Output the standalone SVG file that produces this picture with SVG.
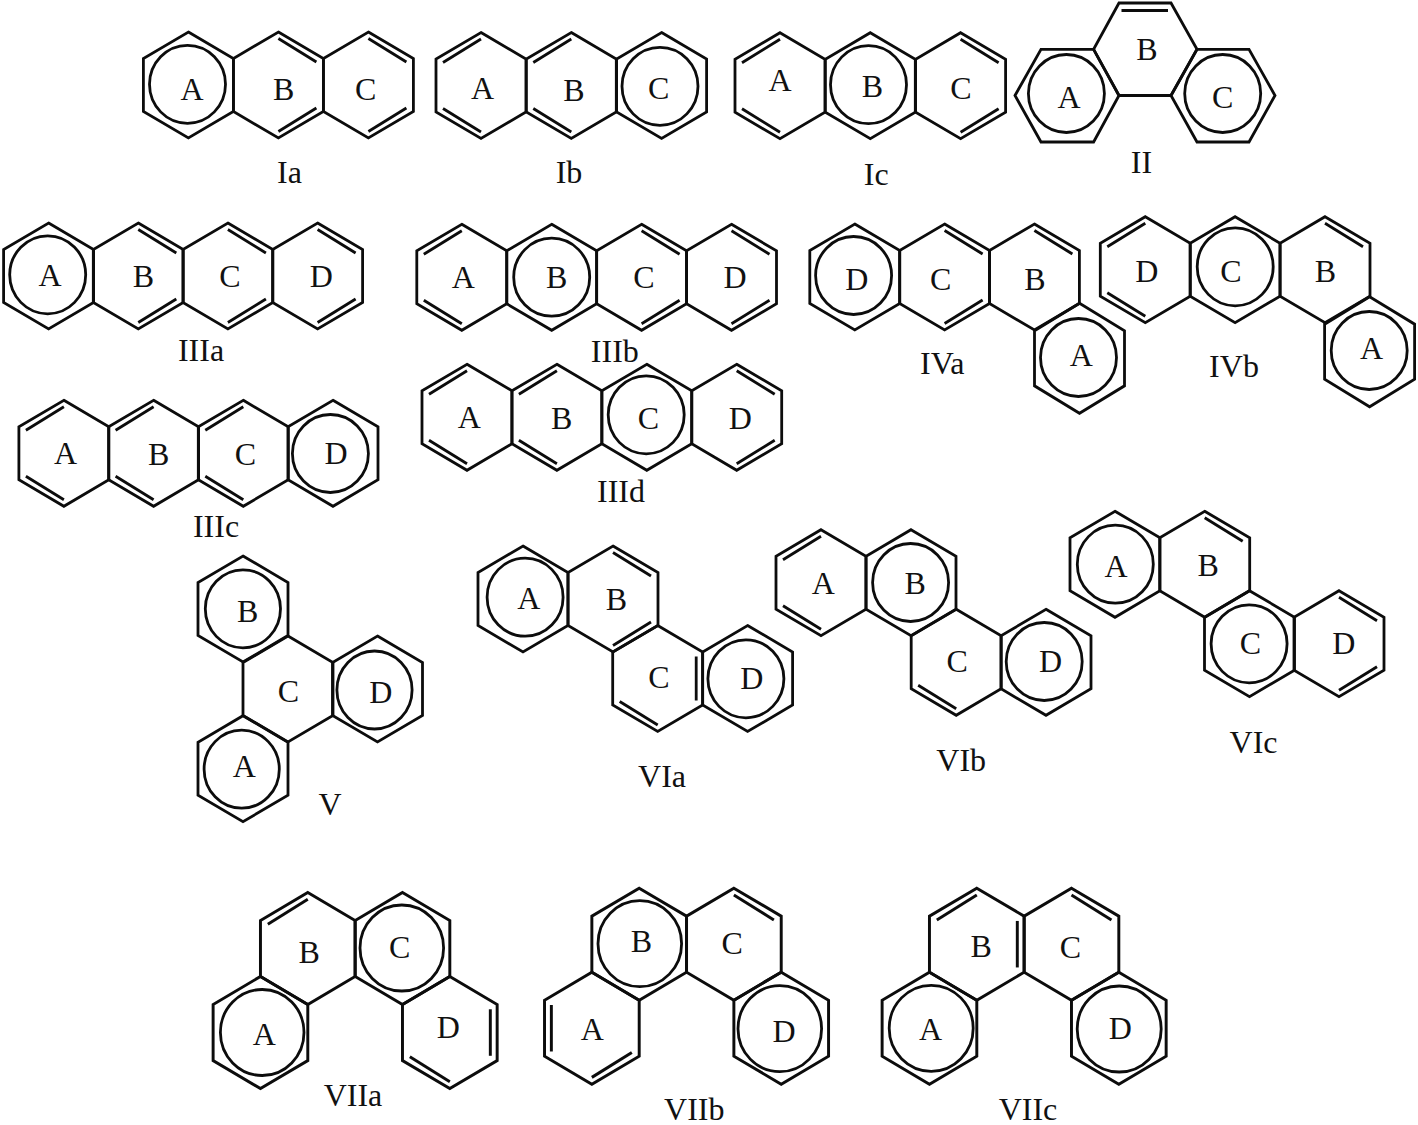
<svg xmlns="http://www.w3.org/2000/svg" width="1418" height="1125" viewBox="0 0 1418 1125">
<style>
.s{fill:none;stroke:#0c0c0c;stroke-width:2.8;stroke-linejoin:miter}
.c{fill:none;stroke:#0c0c0c;stroke-width:2.8}
text{font-family:"Liberation Serif","Times New Roman",serif;font-size:32px;fill:#111;text-anchor:middle}
</style>
<defs>
<polygon id="h" class="s" points="0,-53 45,-26.5 45,26.5 0,53 -45,26.5 -45,-26.5"/>
<path id="tr" class="s" d="M0-46.5L38-23"/>
<path id="br" class="s" d="M0 46.5L38 23"/>
<path id="tl" class="s" d="M0-46.5L-38-23"/>
<path id="bl" class="s" d="M0 46.5L-38 23"/>
<path id="r" class="s" d="M38.5-22V22"/>
<path id="l" class="s" d="M-38.5-22V22"/>
</defs>
<rect width="1418" height="1125" fill="#fff"/>
<g id="connectors"/>

<g id="Ia">
<use href="#h" x="188.4" y="85"/><use href="#h" x="278.4" y="85"/><use href="#h" x="368.4" y="85"/>
<ellipse class="c" cx="187.5" cy="84.3" rx="38" ry="39"/>
<use href="#tr" x="278.4" y="85"/><use href="#br" x="278.4" y="85"/><use href="#tr" x="368.4" y="85"/><use href="#br" x="368.4" y="85"/>
<text x="192" y="99.5">A</text><text x="283.6" y="100">B</text><text x="365.6" y="100">C</text><text x="289.4" y="182.5">Ia</text>
</g>

<g id="Ib">
<use href="#h" x="481" y="85.5"/><use href="#h" x="571.3" y="85.5"/><use href="#h" x="661.6" y="85.5"/>
<ellipse class="c" cx="660" cy="86.3" rx="38" ry="39"/>
<use href="#tl" x="481" y="85.5"/><use href="#bl" x="481" y="85.5"/><use href="#tl" x="571.3" y="85.5"/><use href="#bl" x="571.3" y="85.5"/>
<text x="482.5" y="98.5">A</text><text x="574" y="101">B</text><text x="658.7" y="98.5">C</text><text x="569" y="182.5">Ib</text>
</g>

<g id="Ic">
<use href="#h" x="780" y="85.7"/><use href="#h" x="870.3" y="85.7"/><use href="#h" x="960.6" y="85.7"/>
<ellipse class="c" cx="868.5" cy="84.7" rx="38" ry="39"/>
<use href="#tl" x="780" y="85.7"/><use href="#bl" x="780" y="85.7"/><use href="#tr" x="960.6" y="85.7"/><use href="#br" x="960.6" y="85.7"/>
<text x="780" y="91">A</text><text x="872.5" y="97">B</text><text x="961" y="98.5">C</text><text x="876.3" y="185">Ic</text>
</g>

<g id="II">
<polygon class="s" points="1015,95.5 1041,49.3 1093.6,49.3 1119,95.5 1093.6,142 1041,142"/>
<polygon class="s" points="1119,3 1171,3 1197,49.3 1171,95.5 1119,95.5 1093.6,49.3"/>
<polygon class="s" points="1171,95.5 1197,49.3 1249,49.3 1275,95.5 1249,142 1197,142"/>
<path class="s" d="M1121.5 10.5H1168"/>
<ellipse class="c" cx="1066.4" cy="93.5" rx="38" ry="39"/>
<ellipse class="c" cx="1222.7" cy="93.5" rx="38" ry="39"/>
<text x="1069" y="107.7">A</text><text x="1146.8" y="60">B</text><text x="1222.7" y="107.7">C</text><text x="1141.5" y="172.7">II</text>
</g>

<g id="IIIa">
<use href="#h" x="48.6" y="276"/><use href="#h" x="138.3" y="276"/><use href="#h" x="227.9" y="276"/><use href="#h" x="317.6" y="276"/>
<ellipse class="c" cx="47.7" cy="274.8" rx="38" ry="39"/>
<use href="#tr" x="138.3" y="276"/><use href="#br" x="138.3" y="276"/><use href="#tr" x="227.9" y="276"/><use href="#br" x="227.9" y="276"/><use href="#tr" x="317.6" y="276"/><use href="#br" x="317.6" y="276"/>
<text x="50" y="286">A</text><text x="143.4" y="287.3">B</text><text x="230" y="287.3">C</text><text x="321.4" y="286.7">D</text><text x="201" y="360.7">IIIa</text>
</g>

<g id="IIIb">
<use href="#h" x="461.8" y="277.3"/><use href="#h" x="551.7" y="277.3"/><use href="#h" x="641.6" y="277.3"/><use href="#h" x="731.5" y="277.3"/>
<ellipse class="c" cx="551.7" cy="277.2" rx="38" ry="39"/>
<use href="#tl" x="461.8" y="277.3"/><use href="#bl" x="461.8" y="277.3"/><use href="#tr" x="641.6" y="277.3"/><use href="#br" x="641.6" y="277.3"/><use href="#tr" x="731.5" y="277.3"/><use href="#br" x="731.5" y="277.3"/>
<text x="463.3" y="288.3">A</text><text x="556.6" y="288.3">B</text><text x="644" y="288.3">C</text><text x="735" y="288.3">D</text><text x="614.8" y="361.7">IIIb</text>
</g>

<g id="IIIc">
<use href="#h" x="63.9" y="453.3"/><use href="#h" x="153.6" y="453.3"/><use href="#h" x="243.3" y="453.3"/><use href="#h" x="333" y="453.3"/>
<ellipse class="c" cx="330.4" cy="453.5" rx="38" ry="39"/>
<use href="#tl" x="63.9" y="453.3"/><use href="#bl" x="63.9" y="453.3"/><use href="#tl" x="153.6" y="453.3"/><use href="#bl" x="153.6" y="453.3"/><use href="#tl" x="243.3" y="453.3"/><use href="#bl" x="243.3" y="453.3"/>
<text x="65.5" y="464">A</text><text x="158.7" y="465">B</text><text x="245.4" y="465">C</text><text x="336" y="464.3">D</text><text x="216" y="537.3">IIIc</text>
</g>

<g id="IIId">
<use href="#h" x="467" y="417.3"/><use href="#h" x="556.9" y="417.3"/><use href="#h" x="646.8" y="417.3"/><use href="#h" x="736.7" y="417.3"/>
<ellipse class="c" cx="646.2" cy="414.8" rx="38" ry="39"/>
<use href="#tl" x="467" y="417.3"/><use href="#bl" x="467" y="417.3"/><use href="#tl" x="556.9" y="417.3"/><use href="#bl" x="556.9" y="417.3"/><use href="#tr" x="736.7" y="417.3"/><use href="#br" x="736.7" y="417.3"/>
<text x="469.4" y="428.3">A</text><text x="561.7" y="429.3">B</text><text x="648.5" y="429.3">C</text><text x="740.3" y="429">D</text><text x="621" y="501.7">IIId</text>
</g>

<g id="IVa">
<use href="#h" x="854.8" y="277"/><use href="#h" x="944.6" y="277"/><use href="#h" x="1034.4" y="277"/>
<use href="#h" transform="translate(1079.5,358.3) scale(1,1.038)"/>
<ellipse class="c" cx="853.6" cy="275.5" rx="38" ry="39"/>
<ellipse class="c" cx="1078.5" cy="357.5" rx="38" ry="39"/>
<use href="#tr" x="944.6" y="277"/><use href="#br" x="944.6" y="277"/><use href="#tr" x="1034.4" y="277"/>
<text x="856.8" y="290">D</text><text x="940.7" y="290">C</text><text x="1035" y="290">B</text><text x="1081.4" y="365.7">A</text><text x="942.3" y="374">IVa</text>
</g>

<g id="IVb">
<use href="#h" x="1145.3" y="269.7"/><use href="#h" x="1235.1" y="269.7"/><use href="#h" x="1325" y="269.7"/>
<use href="#h" transform="translate(1369.6,351.7) scale(1,1.038)"/>
<ellipse class="c" cx="1235.2" cy="266.8" rx="38" ry="39"/>
<ellipse class="c" cx="1369.2" cy="350.5" rx="38" ry="39"/>
<use href="#tl" x="1145.3" y="269.7"/><use href="#bl" x="1145.3" y="269.7"/><use href="#tr" x="1325" y="269.7"/>
<text x="1146.9" y="282.3">D</text><text x="1230.8" y="282.3">C</text><text x="1325.4" y="282.3">B</text><text x="1371.5" y="359">A</text><text x="1234" y="376.7">IVb</text>
</g>

<g id="V">
<use href="#h" x="243" y="609"/><use href="#h" x="288" y="689"/><use href="#h" x="377.5" y="689"/><use href="#h" x="243" y="768.7"/>
<ellipse class="c" cx="242.9" cy="608.8" rx="37.6" ry="39"/>
<ellipse class="c" cx="374.5" cy="690" rx="37.6" ry="39"/>
<ellipse class="c" cx="241.7" cy="769.2" rx="37.6" ry="39"/>
<text x="247.7" y="621.7">B</text><text x="288.5" y="701.7">C</text><text x="380.9" y="703.3">D</text><text x="244.3" y="777.3">A</text><text x="330" y="815">V</text>
</g>

<g id="VIa">
<use href="#h" x="523" y="599"/><use href="#h" x="613" y="599"/><use href="#h" x="657.7" y="678.5"/><use href="#h" x="747.6" y="678.5"/>
<ellipse class="c" cx="525.1" cy="597.2" rx="38" ry="39"/>
<ellipse class="c" cx="745.9" cy="678.8" rx="38" ry="39"/>
<use href="#tr" x="613" y="599"/><use href="#br" x="613" y="599"/><use href="#r" x="657.7" y="678.5"/><use href="#bl" x="657.7" y="678.5"/>
<text x="528.9" y="609.3">A</text><text x="616.3" y="610">B</text><text x="658.9" y="687.7">C</text><text x="751.7" y="689.3">D</text><text x="662" y="787.3">VIa</text>
</g>

<g id="VIb">
<use href="#h" x="821" y="582.7"/><use href="#h" x="911" y="582.7"/><use href="#h" x="956.2" y="662.3"/><use href="#h" x="1046" y="662.3"/>
<ellipse class="c" cx="910.6" cy="582.5" rx="38" ry="39"/>
<ellipse class="c" cx="1044.2" cy="661.5" rx="38" ry="39"/>
<use href="#tl" x="821" y="582.7"/><use href="#bl" x="821" y="582.7"/><use href="#bl" x="956.2" y="662.3"/>
<text x="823.2" y="594.3">A</text><text x="915.2" y="594.3">B</text><text x="957.2" y="672.3">C</text><text x="1050.6" y="672.3">D</text><text x="961.2" y="770.7">VIb</text>
</g>

<g id="VIc">
<use href="#h" x="1115" y="564.3"/><use href="#h" x="1204.7" y="564.3"/><use href="#h" x="1249.5" y="643.7"/><use href="#h" x="1339" y="643.7"/>
<ellipse class="c" cx="1115.3" cy="564.2" rx="38" ry="39"/>
<ellipse class="c" cx="1249.1" cy="643.8" rx="38" ry="39"/>
<use href="#tr" x="1204.7" y="564.3"/><use href="#tr" x="1339" y="643.7"/><use href="#br" x="1339" y="643.7"/>
<text x="1116.1" y="576.7">A</text><text x="1208.1" y="576">B</text><text x="1250.5" y="654.3">C</text><text x="1343.9" y="654.3">D</text><text x="1253.5" y="752.7">VIc</text>
</g>

<g id="VIIa">
<g transform="translate(307.8,948.5) scale(1.052,1.057)">
<use href="#h"/><use href="#h" x="90"/><use href="#h" x="-45" y="79.5"/><use href="#h" x="135" y="79.5"/>
<use href="#tl"/><use href="#bl" x="135" y="79.5"/><use href="#r" x="135" y="79.5"/>
</g>
<ellipse class="c" cx="401.8" cy="948" rx="41.8" ry="43"/>
<ellipse class="c" cx="262.2" cy="1032.5" rx="41.8" ry="43"/>
<text x="309.2" y="963.3">B</text><text x="399.6" y="957.7">C</text><text x="264.3" y="1045">A</text><text x="448.2" y="1038.3">D</text><text x="353" y="1106">VIIa</text>
</g>

<g id="VIIb">
<g transform="translate(639.2,944.2) scale(1.052,1.057)">
<use href="#h"/><use href="#h" x="90"/><use href="#h" x="-45" y="79.5"/><use href="#h" x="135" y="79.5"/>
<use href="#tr" x="90"/><use href="#l" x="-45" y="79.5"/><use href="#br" x="-45" y="79.5"/>
</g>
<ellipse class="c" cx="639.8" cy="943.7" rx="41.8" ry="43"/>
<ellipse class="c" cx="779.8" cy="1028.7" rx="41.8" ry="43"/>
<text x="592.4" y="1040">A</text><text x="641.4" y="952.3">B</text><text x="732.2" y="954.3">C</text><text x="784" y="1041.7">D</text><text x="694.3" y="1120">VIIb</text>
</g>

<g id="VIIc">
<g transform="translate(976.8,944.2) scale(1.052,1.057)">
<use href="#h"/><use href="#h" x="90"/><use href="#h" x="-45" y="79.5"/><use href="#h" x="135" y="79.5"/>
<use href="#tl"/><use href="#r"/><use href="#tr" x="90"/>
</g>
<ellipse class="c" cx="931.2" cy="1028.3" rx="42" ry="43"/>
<ellipse class="c" cx="1119.2" cy="1029" rx="42" ry="43"/>
<text x="930.5" y="1040">A</text><text x="981.2" y="956.7">B</text><text x="1070.3" y="958.3">C</text><text x="1120.3" y="1039.3">D</text><text x="1028" y="1120">VIIc</text>
</g>
</svg>
